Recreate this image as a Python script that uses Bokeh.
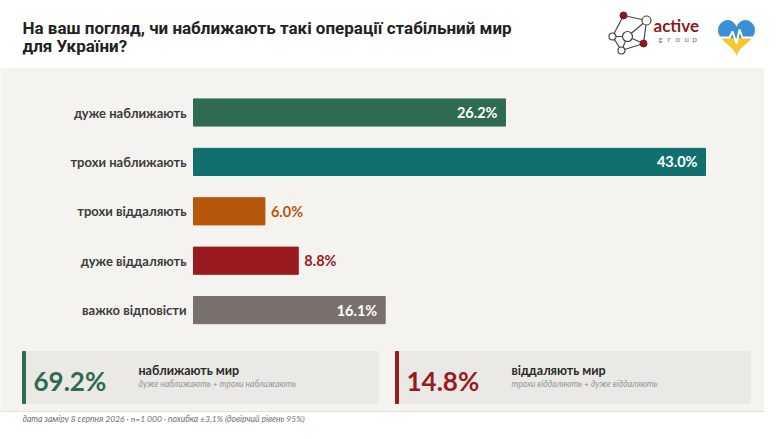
import numpy as np
from bokeh.plotting import figure
from bokeh.models import Range1d
from bokeh.core.properties import value
from bokeh.embed import file_html
from bokeh.resources import INLINE

# --- data ---
categories = ["дуже наближають", "трохи наближають", "трохи віддаляють",
              "дуже віддаляють", "важко відповісти"]
shares = [26.2, 43.0, 6.0, 8.8, 16.1]
bar_colors = ["#2f6b52", "#11706f", "#b7570c", "#9a1b1f", "#7a706b"]

title_lines = ["На ваш погляд, чи наближають такі операції стабільний мир",
               "для України?"]
group_names = ["наближають мир", "віддаляють мир"]
group_notes = ["дуже наближають + трохи наближають",
               "трохи віддаляють + дуже віддаляють"]
group_members = [[0, 1], [2, 3]]
group_colors = ["#2f6b52", "#9a1b1f"]
footer = "дата заміру 8 серпня 2026 · n=1 000 · похибка ±3,1% (довірчий рівень 95%)"

W, H = 764, 423
FONT = value("Lato")

# layout of the bar block (pixels inside the figure)
bar_x0, bar_x1 = 193, 705
row_y0, row_step = 112, 49.4
px_per = (bar_x1 - bar_x0) / max(shares)

p = figure(width=W, height=H, x_range=Range1d(0, W), y_range=Range1d(H, 0),
           output_backend="svg", toolbar_location=None, min_border=0,
           x_axis_location=None, y_axis_location=None,
           outline_line_color=None, background_fill_color="#ffffff",
           border_fill_color="#ffffff")
p.grid.visible = False
p.extra_x_ranges = {"pct": Range1d(-bar_x0 / px_per, (W - bar_x0) / px_per)}
p.extra_y_ranges = {"row": Range1d((H - row_y0) / row_step, -row_y0 / row_step)}

# backgrounds
p.quad(left=0, right=W, top=68, bottom=411, color="#f5f3ef")
p.segment(x0=0, y0=411, x1=W, y1=411, line_color="#e4e1dc", line_width=1)

# title
p.text(x=[22, 22], y=[27, 45], text=title_lines, text_font=value("Roboto"),
       text_font_style="bold", text_font_size="17px", text_color="#222222",
       text_baseline="middle")

# --- logo: active group ---
nodes_x = [623, 646, 643, 621, 612, 627]
nodes_y = [15, 20, 43, 50, 36, 36]
edges = [(0, 1), (1, 2), (2, 3), (3, 4), (4, 0), (5, 1), (5, 4), (5, 2), (5, 3)]
p.segment(x0=[nodes_x[a] for a, b in edges], y0=[nodes_y[a] for a, b in edges],
          x1=[nodes_x[b] for a, b in edges], y1=[nodes_y[b] for a, b in edges],
          line_color="#444444", line_width=1.2)
p.scatter(x=[nodes_x[i] for i in (1, 5, 4, 3)], y=[nodes_y[i] for i in (1, 5, 4, 3)],
          size=[9, 10, 7, 7], fill_color="#ffffff", line_color="#444444", line_width=1.2)
p.scatter(x=[nodes_x[0], nodes_x[2]], y=[nodes_y[0], nodes_y[2]], size=7,
          fill_color="#8b1a1f", line_color="#8b1a1f")
p.text(x=[653], y=[25], text=["active"], text_font=FONT, text_font_style="bold",
       text_font_size="17px", text_color="#8b1a1f", text_baseline="middle")
p.text(x=[658, 667, 675, 684, 692], y=[38] * 5, text=list("group"), text_font=FONT,
       text_font_size="8px", text_color="#777777", text_baseline="middle")

# --- logo: heart ---
t = np.linspace(-np.pi, np.pi, 400)
hx = 16 * np.sin(t) ** 3
hy = 13 * np.cos(t) - 5 * np.cos(2 * t) - 2 * np.cos(3 * t) - np.cos(4 * t)
HX = 736 + 1.125 * hx
HY = 20 + (12 - hy) * 1.2
p.patch(HX, HY, color="#f6c630")
top = hy > -2.2
p.patch(HX[top], HY[top], color="#3a8fd9")
p.line(x=[719, 729, 732, 736, 739, 742, 753], y=[37, 37, 31, 43, 29, 37, 37],
       line_color="#ffffff", line_width=2)

# --- bars ---
rows = list(range(len(categories)))
p.hbar(y=rows, left=0, right=shares, height=0.55, color=bar_colors,
       x_range_name="pct", y_range_name="row")
p.text(x=[0] * len(rows), y=rows, text=categories, x_offset=-7,
       text_align="right", text_baseline="middle", text_font=FONT,
       text_font_style="bold", text_font_size="13px", text_color="#3b3b3b",
       x_range_name="pct", y_range_name="row")

inside = [i for i in rows if shares[i] >= 10]
outside = [i for i in rows if shares[i] < 10]
p.text(x=[shares[i] for i in inside], y=inside,
       text=[f"{shares[i]:.1f}%" for i in inside], x_offset=-8,
       text_align="right", text_baseline="middle", text_font=FONT,
       text_font_style="bold", text_font_size="14.5px", text_color="#ffffff",
       x_range_name="pct", y_range_name="row")
p.text(x=[shares[i] for i in outside], y=outside,
       text=[f"{shares[i]:.1f}%" for i in outside], x_offset=6,
       text_align="left", text_baseline="middle", text_font=FONT,
       text_font_style="bold", text_font_size="14.5px",
       text_color=[bar_colors[i] for i in outside],
       x_range_name="pct", y_range_name="row")

# --- summary boxes ---
box_left = [22, 395]
box_right = [378, 750]
totals = [sum(shares[i] for i in m) for m in group_members]
p.quad(left=box_left, right=box_right, top=351, bottom=403, color="#ebe9e5")
p.quad(left=box_left, right=[x + 3 for x in box_left], top=351, bottom=403,
       color=group_colors)
p.text(x=[x + 11 for x in box_left], y=[380, 380],
       text=[f"{v:.1f}%" for v in totals], text_font=FONT, text_font_style="bold",
       text_font_size="26px", text_color=group_colors, text_baseline="middle")
p.text(x=[x + 116 for x in box_left], y=[370, 370], text=group_names,
       text_font=FONT, text_font_style="bold", text_font_size="12.5px",
       text_color="#2a2a2a", text_baseline="middle")
p.text(x=[x + 116 for x in box_left], y=[383, 383], text=group_notes,
       text_font=FONT, text_font_style="italic", text_font_size="8.5px",
       text_color="#959595", text_baseline="middle")

# footer
p.text(x=[22], y=[418], text=[footer], text_font=FONT, text_font_style="italic",
       text_font_size="8.5px", text_color="#6f6f6f", text_baseline="middle")

open("out.html", "w").write(file_html(p, INLINE))
